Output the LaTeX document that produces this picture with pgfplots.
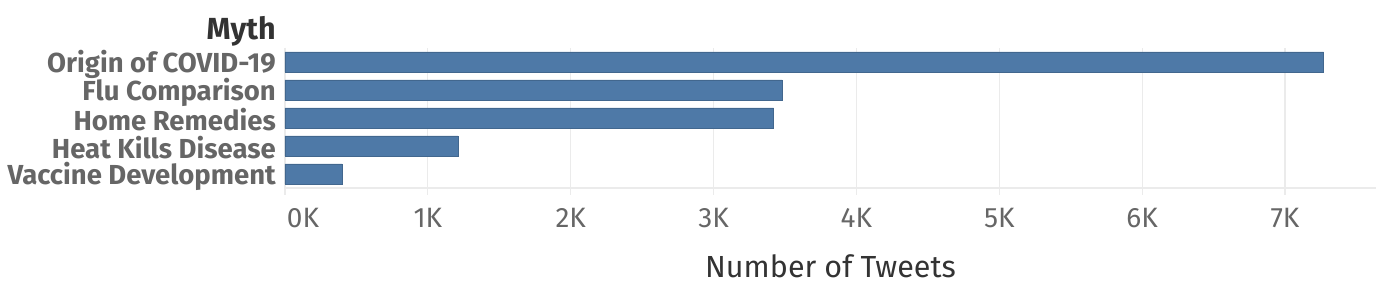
\documentclass[border=0pt]{standalone}
\usepackage{fontspec}
\setmainfont{Fira Sans}
\usepackage{pgfplots}
\pgfplotsset{compat=1.18}
\definecolor{barblue}{HTML}{4E79A7}
\definecolor{gridgray}{HTML}{EBEBEB}
\definecolor{labgray}{HTML}{666666}
\definecolor{dark}{HTML}{333333}
\begin{document}
\begin{tikzpicture}
\useasboundingbox (-285pt,-114pt) rectangle (1106pt,188pt);
\begin{axis}[
  at={(0,0)}, anchor=south west,
  scale only axis, width=1091pt, height=140pt,
  xbar, bar width=0.72,
  xmin=0, xmax=7.637,
  ymin=-0.5, ymax=4.5, y dir=reverse,
  ytick={0,1,2,3,4},
  yticklabels={Origin of COVID-19,Flu Comparison,Home Remedies,Heat Kills Disease,Vaccine Development},
  xtick={0,1,2,3,4,5,6,7},
  xticklabels={\makebox[0pt][l]{\hspace{2pt}0K},1K,2K,3K,4K,5K,6K,7K},
  axis x line*=bottom, axis y line*=left,
  axis line style={-, draw=gridgray, line width=1.2pt},
  xmajorgrids, grid style={draw=gridgray, line width=1.2pt},
  xtick align=outside, major tick length=7pt,
  x tick style={draw=gridgray, line width=1.2pt},
  y tick style={draw=none}, ytick align=inside,
  yticklabel style={anchor=east, inner sep=0pt, xshift=-9pt, yshift=-2pt, font=\fontsize{27.5}{27.5}\selectfont\bfseries, text=labgray},
  xticklabel style={anchor=base, inner sep=0pt, font=\fontsize{28}{28}\selectfont, text=labgray},
  xticklabel shift=32pt,
  xlabel={Number of Tweets},
  xlabel style={at={(axis description cs:0.5,0)}, anchor=base, yshift=-89pt, inner sep=0pt, font=\fontsize{30.5}{30.5}\selectfont, text=dark},
  clip=false,
]
\addplot[fill=barblue, draw=barblue!85!black, line width=0.5pt] coordinates {(7.27,0) (3.48,1) (3.42,2) (1.21,3) (0.40,4)};
\node[anchor=base east, inner sep=0pt, xshift=-9pt, yshift=8pt, font=\fontsize{30.5}{30.5}\selectfont\bfseries, text=dark] at (rel axis cs:0,1) {Myth};
\end{axis}
\end{tikzpicture}
\end{document}
